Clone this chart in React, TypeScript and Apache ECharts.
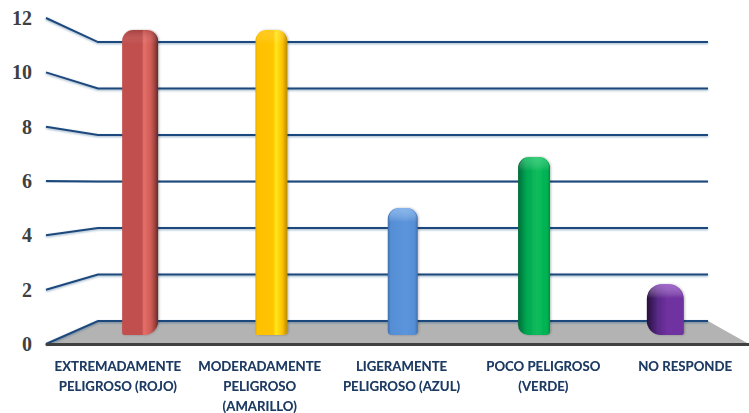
import React, { useEffect, useRef } from "react";
import * as echarts from "echarts";

const categories = [
  "EXTREMADAMENTE\nPELIGROSO (ROJO)",
  "MODERADAMENTE\nPELIGROSO\n(AMARILLO)",
  "LIGERAMENTE\nPELIGROSO (AZUL)",
  "POCO PELIGROSO\n(VERDE)",
  "NO RESPONDE",
];
const values = [12, 12, 5, 7, 2];
const yTicks = [0, 2, 4, 6, 8, 10, 12];

// Column styling, one entry per category.
const columnWidths = [36, 32, 30, 32, 37];
const columnRadii = [
  [11, 11, 14, 2],
  [11, 11, 4, 2],
  [11, 11, 4, 4],
  [11, 11, 4, 10],
  [15, 15, 2, 14],
];
const columnShades = [
  [[0, "#c0504d"], [0.55, "#c0504d"], [0.6, "#e66f6a"], [0.8, "#cf5b56"], [0.9, "#a34441"], [1, "#5c2b29"]],
  [[0, "#e0aa00"], [0.06, "#ffc000"], [0.55, "#ffc400"], [0.64, "#ffe81c"], [0.84, "#ffc000"], [1, "#b58a00"]],
  [[0, "#3f70ad"], [0.1, "#558ed5"], [0.6, "#5b95dc"], [0.9, "#558ed5"], [1, "#3e6ca8"]],
  [[0, "#076b3a"], [0.25, "#00a650"], [0.6, "#0cbc5c"], [0.92, "#00b050"], [1, "#058a42"]],
  [[0, "#26103c"], [0.3, "#5a2a88"], [0.55, "#7030a0"], [1, "#7030a0"]],
];
const capTints = [
  "rgba(90,20,20,0.25)",
  "rgba(255,230,120,0.25)",
  "rgba(170,205,250,0.55)",
  "rgba(110,235,160,0.4)",
  "rgba(190,130,235,0.6)",
];

// Perspective of the chart box: pixel extents of the front edge and back wall.
const FRONT_X = 46;
const BACK_X = 98;
const BACK_END_X = 708;
const FLOOR_END_X = 749;
const backValue = (v: number) => 0.8466 + 0.8557 * v;

const lineColor = "#1f497d";

function App() {
  const ref = useRef<HTMLDivElement>(null);

  useEffect(() => {
    const chart = echarts.init(ref.current!, undefined, { renderer: "svg" });
    chart.setOption({
      animation: false,
      grid: [
        { left: 47, width: 709, top: 18, height: 326, outerBoundsMode: "none" },
        { left: 74.5, width: 656.5, top: 30, height: 305, outerBoundsMode: "none" },
        { left: FRONT_X, width: FLOOR_END_X - FRONT_X, top: 18, height: 326, outerBoundsMode: "none" },
      ],
      xAxis: [
        {
          gridIndex: 0,
          type: "category",
          data: categories,
          axisTick: { show: false },
          axisLine: { lineStyle: { color: "#404040", width: 3 } },
          axisLabel: {
            interval: 0,
            margin: 12,
            color: "#1f3a63",
            fontFamily: "Lato",
            fontWeight: "bold",
            fontSize: 13.2,
            lineHeight: 20,
            textShadowColor: "rgba(31,58,99,0.45)",
            textShadowBlur: 1,
          },
          z: 4,
        },
        { gridIndex: 1, type: "category", data: categories, show: false },
        { gridIndex: 2, type: "value", min: FRONT_X, max: FLOOR_END_X, show: false },
      ],
      yAxis: [
        {
          gridIndex: 0,
          type: "value",
          min: 0,
          max: 12,
          interval: 2,
          axisLine: { show: false },
          axisTick: { show: false },
          splitLine: { show: false },
          axisLabel: {
            margin: 15,
            color: "#404040",
            fontFamily: "Liberation Serif",
            fontWeight: "bold",
            fontSize: 20,
          },
        },
        { gridIndex: 1, type: "value", min: 0, max: 12, show: false },
        { gridIndex: 2, type: "value", min: 0, max: 12, show: false },
      ],
      series: [
        {
          // Grey floor of the box
          type: "custom",
          xAxisIndex: 2,
          yAxisIndex: 2,
          z: 1,
          silent: true,
          clip: false,
          data: [[0]],
          renderItem: (_: any, api: any) => {
            const pts = [
              api.coord([FRONT_X, 0]),
              api.coord([BACK_X, backValue(0)]),
              api.coord([BACK_END_X, backValue(0)]),
              api.coord([FLOOR_END_X, 0]),
            ];
            return { type: "polygon", shape: { points: pts }, style: { fill: "#b3b3b3" } };
          },
        },
        {
          // Gridlines folding from the front edge along the back wall
          type: "custom",
          xAxisIndex: 2,
          yAxisIndex: 2,
          z: 2,
          silent: true,
          clip: false,
          data: yTicks.map((t) => [t]),
          renderItem: (_: any, api: any) => {
            const v = api.value(0);
            const pts = [
              api.coord([FRONT_X, v]),
              api.coord([BACK_X, backValue(v)]),
              api.coord([BACK_END_X, backValue(v)]),
            ];
            return {
              type: "polyline",
              shape: { points: pts },
              style: {
                fill: "none",
                stroke: lineColor,
                lineWidth: 2,
                shadowColor: "rgba(31,73,125,0.45)",
                shadowBlur: 2,
                shadowOffsetY: 1,
              },
            };
          },
        },
        {
          // Rounded columns with a horizontal cylinder shading
          type: "custom",
          xAxisIndex: 1,
          yAxisIndex: 1,
          z: 3,
          silent: true,
          clip: false,
          data: values.map((v, i) => [i, v]),
          renderItem: (params: any, api: any) => {
            const i = params.dataIndex;
            const top = api.coord([api.value(0), api.value(1)]);
            const base = api.coord([api.value(0), 0]);
            const w = columnWidths[i];
            const x = top[0] - w / 2;
            const h = base[1] - top[1];
            const r = columnRadii[i];
            const colorStops = columnShades[i].map(([offset, color]) => ({ offset, color }));
            const shape = { x, y: top[1], width: w, height: h, r };
            return {
              type: "group",
              children: [
                {
                  type: "rect",
                  shape,
                  style: {
                    fill: new echarts.graphic.LinearGradient(0, 0, 1, 0, colorStops),
                    shadowColor: "rgba(0,0,0,0.25)",
                    shadowBlur: 2,
                    shadowOffsetX: 1,
                  },
                },
                {
                  type: "rect",
                  shape: { x: x + 1, y: top[1], width: w - 2, height: 14, r: [r[0], r[1], 0, 0] },
                  style: {
                    fill: new echarts.graphic.LinearGradient(0, 0, 0, 1, [
                      { offset: 0, color: capTints[i] },
                      { offset: 1, color: "rgba(255,255,255,0)" },
                    ]),
                  },
                },
              ],
            };
          },
        },
      ],
    });
    return () => chart.dispose();
  }, []);

  return (
    <div
      ref={ref}
      style={{ position: "absolute", left: 0, top: 0, width: 749, height: 413, background: "#fff" }}
    />
  );
}

export default App;
